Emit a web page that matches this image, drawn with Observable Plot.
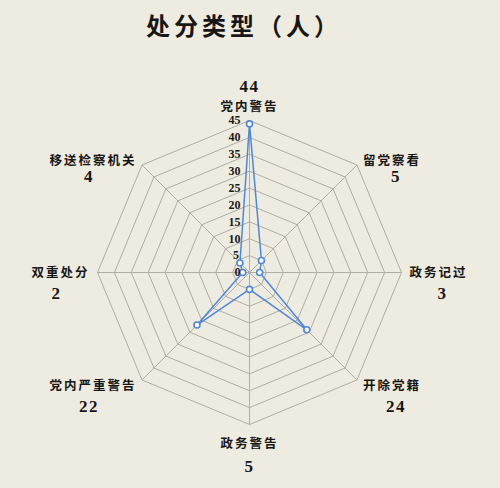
<!DOCTYPE html>
<html><head><meta charset="utf-8">
<script src="https://cdn.jsdelivr.net/npm/d3@7"></script>
<script src="https://cdn.jsdelivr.net/npm/@observablehq/plot@0.6"></script>
<style>
html,body{margin:0;padding:0;background:#eeebe0;}
body{width:500px;height:488px;overflow:hidden;}
#title{height:55px;line-height:50px;text-align:center;font-family:"Noto Sans CJK SC",sans-serif;font-weight:700;font-size:24px;letter-spacing:4px;color:#161616;padding-right:12px;box-sizing:border-box;}
#chart svg{display:block;background:transparent;}
</style></head><body>
<div id="title">处分类型（人）</div>
<div id="chart"></div>
<script>
const categories = ["党内警告","留党察看","政务记过","开除党籍","政务警告","党内严重警告","双重处分","移送检察机关"];
const values = [44, 5, 3, 24, 5, 22, 2, 4];
const ticks = [0, 5, 10, 15, 20, 25, 30, 35, 40, 45];
const maxValue = 45;

const W = 500, H = 433, cx = 249, cy = 217, R = 152, k = R / maxValue;
const n = categories.length;
const ang = i => i * 2 * Math.PI / n;
const pt = (i, r) => ({x: r * Math.sin(ang(i)), y: r * Math.cos(ang(i))});

// grid rings
const rings = [];
for (const t of ticks.filter(t => t > 0)) {
  for (let i = 0; i <= n; i++) rings.push({t, ...pt(i % n, t)});
}
// data polygon
const poly = d3.range(n + 1).map(i => ({...pt(i % n, values[i % n])}));
const dots = d3.range(n).map(i => ({...pt(i, values[i])}));

// label layout (pixel offsets -> data units)
const charW = 14;
const labels = categories.map((name, i) => {
  const s = Math.sin(ang(i)), c = Math.cos(ang(i));
  const sx = R * s, sy = -R * c;
  let nx, ny, vx, vy;
  if (Math.abs(s) < 1e-6) {
    if (c > 0) { nx = 0; ny = sy - 14; vx = 0; vy = sy - 34; }
    else { nx = 0; ny = sy + 19; vx = 0; vy = sy + 42; }
  } else {
    const side = Math.sign(s);
    const w = name.length * charW;
    const horiz = Math.abs(c) < 1e-6;
    nx = sx + side * ((horiz ? 9 : 7) + w / 2);
    ny = horiz ? 0 : sy + (c > 0 ? -4 : 6);
    vx = nx + side * 4;
    vy = ny + (horiz ? 21 : (c > 0 ? 16 : 21));
  }
  return {name, value: values[i], nx: nx / k, ny: -ny / k, vx: vx / k, vy: -vy / k};
});

const blue = "#4f88d8";
const gridColor = "#b0ada5";

const chart = Plot.plot({
  width: W, height: H,
  margin: 0,
  x: {domain: [-cx / k, (W - cx) / k], axis: null},
  y: {domain: [-(H - cy) / k, cy / k], axis: null},
  style: {background: "transparent", overflow: "visible"},
  marks: [
    Plot.line(rings, {x: "x", y: "y", z: "t", stroke: gridColor, strokeWidth: 1}),
    Plot.link(d3.range(n), {x1: () => 0, y1: () => 0, x2: i => pt(i, maxValue).x, y2: i => pt(i, maxValue).y, stroke: gridColor, strokeWidth: 1}),
    Plot.line(poly, {x: "x", y: "y", stroke: blue, strokeWidth: 1.5}),
    Plot.dot(dots, {x: "x", y: "y", r: 3, fill: "white", stroke: blue, strokeWidth: 1.6}),
    Plot.text(ticks, {x: () => 0, y: t => t, text: t => String(t), dx: -9, textAnchor: "end", fontFamily: "Liberation Serif", fontWeight: 700, fontSize: 12, fill: "#1a1a1a"}),
    Plot.text(labels, {x: "nx", y: "ny", text: "name", fontFamily: "Noto Sans CJK SC", fontWeight: 700, fontSize: 12.5, fill: "#161616"}),
    Plot.text(labels, {x: "vx", y: "vy", text: d => String(d.value), fontFamily: "Liberation Serif", fontWeight: 700, fontSize: 17, fill: "#161616"})
  ]
});
const nameSet = new Set(categories);
d3.select(chart).selectAll("text").each(function() {
  const t = this.textContent;
  if (nameSet.has(t)) { this.setAttribute("letter-spacing", "2px"); this.style.letterSpacing = "2px"; }
  else if (values.map(String).includes(t) && +this.getAttribute("font-size") !== 12) { this.style.letterSpacing = "1.5px"; }
});
document.getElementById("chart").appendChild(chart);
</script>
</body></html>
